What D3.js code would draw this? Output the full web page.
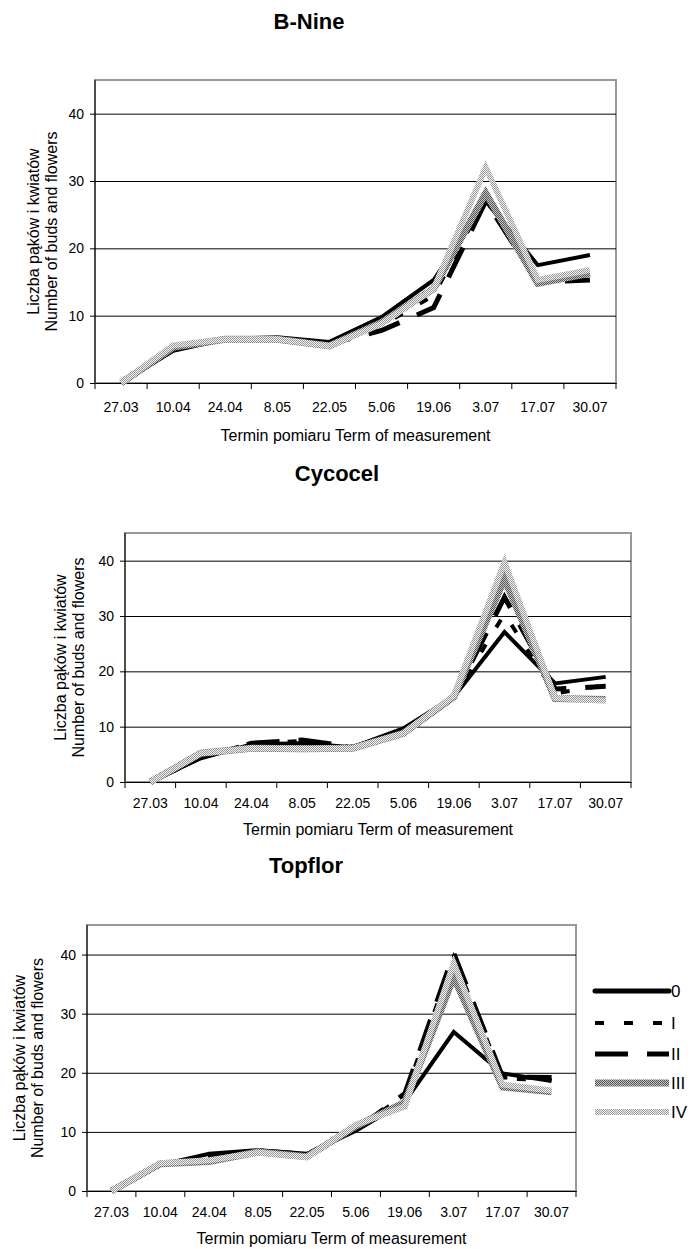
<!DOCTYPE html>
<meta charset="utf-8">
<script src="https://cdn.jsdelivr.net/npm/d3@7"></script>
<style>
body { margin: 0; background: #fff; }
text { font-family: Arial, "Liberation Sans", sans-serif; fill: #000; }
.title { font-size: 22px; font-weight: bold; }
.axis-title { font-size: 16px; }
.tick text { font-size: 14px; }
</style>
<body>
<script>

// measurement dates and treatments
var dates = ["27.03", "10.04", "24.04", "8.05", "22.05", "5.06", "19.06", "3.07", "17.07", "30.07"];
var treatments = ["0", "I", "II", "III", "IV"];
var yTicks = [0, 10, 20, 30, 40];

// B-Nine
var bNine0   = [0, 4.8, 6.5, 6.8, 6.1, 9.8, 15.3, 27.0, 17.5, 19.0];
var bNineI   = [0, 5.0, 6.5, 6.6, 5.8, 8.5, 13.0, 27.5, 15.5, 16.0];
var bNineII  = [0, 5.0, 6.5, 6.6, 5.8, 7.8, 11.2, 27.0, 15.0, 15.3];
var bNineIII = [0, 5.3, 6.5, 6.5, 5.5, 9.0, 14.0, 28.2, 14.8, 16.3];
var bNineIV  = [0, 5.6, 6.5, 6.5, 5.5, 8.8, 14.0, 32.0, 15.3, 16.8];

// Cycocel
var cyc0   = [0, 4.3, 6.8, 7.0, 6.3, 9.7, 15.4, 27.1, 17.8, 19.0];
var cycI   = [0, 4.5, 7.0, 7.4, 6.3, 9.2, 15.4, 30.4, 16.0, 17.5];
var cycII  = [0, 4.5, 7.0, 7.6, 6.3, 9.0, 15.4, 33.4, 16.8, 17.3];
var cycIII = [0, 5.2, 6.1, 6.0, 6.1, 8.8, 15.4, 36.7, 15.1, 14.9];
var cycIV  = [0, 5.2, 6.1, 6.0, 6.1, 8.8, 15.6, 39.7, 15.2, 14.7];

// Topflor
var top0   = [0, 4.4, 6.3, 6.9, 6.3, 10.2, 15.1, 26.9, 19.9, 18.6];
var topI   = [0, 4.5, 5.8, 6.8, 6.2, 10.5, 16.2, 39.5, 19.0, 18.8];
var topII  = [0, 4.5, 5.8, 6.8, 6.2, 10.4, 16.5, 40.2, 19.3, 19.2];
var topIII = [0, 4.6, 5.0, 6.6, 5.8, 11.0, 15.0, 36.2, 17.6, 16.8];
var topIV  = [0, 4.7, 5.2, 6.5, 5.7, 11.2, 14.3, 38.5, 18.0, 17.0];

var width = 692,
    height = 1249;

var svg = d3.select("body").append("svg")
    .attr("width", width)
    .attr("height", height);

// patterned grey strokes (like the old Excel line patterns)
var defs = svg.append("defs");
function checker(id, bg, fg) {
  var p = defs.append("pattern")
      .attr("id", id)
      .attr("patternUnits", "userSpaceOnUse")
      .attr("width", 2).attr("height", 2);
  p.append("rect").attr("width", 2).attr("height", 2).attr("fill", bg);
  p.append("rect").attr("width", 1).attr("height", 1).attr("fill", fg);
  p.append("rect").attr("x", 1).attr("y", 1).attr("width", 1).attr("height", 1).attr("fill", fg);
}
checker("patIII", "#c4c4c4", "#555");
checker("patIV", "#f2f2f2", "#999");

// line style per treatment
var styles = {
  "0":   {stroke: "#000", width: 4, dash: null},
  "I":   {stroke: "#000", width: 4, dash: "9,20"},
  "II":  {stroke: "#000", width: 5, dash: "33,19"},
  "III": {stroke: "url(#patIII)", width: 7, dash: null},
  "IV":  {stroke: "url(#patIV)", width: 6, dash: null}
};

var panels = [
  {title: "B-Nine", series: [bNine0, bNineI, bNineII, bNineIII, bNineIV],
   left: 95, right: 616, top: 80, bottom: 383,
   titleX: 309, titleY: 29, yTitleX: 33, xTitleY: 441, labelPad: 19},
  {title: "Cycocel", series: [cyc0, cycI, cycII, cycIII, cycIV],
   left: 125, right: 631, top: 533, bottom: 782,
   titleX: 337, titleY: 481, yTitleX: 60, xTitleY: 835, labelPad: 16},
  {title: "Topflor", series: [top0, topI, topII, topIII, topIV],
   left: 87, right: 576, top: 925, bottom: 1191,
   titleX: 306, titleY: 873, yTitleX: 19, xTitleY: 1244, labelPad: 16}
];

panels.forEach(function(p) {
  var x = d3.scaleBand().domain(dates).range([p.left, p.right]);
  var y = d3.scaleLinear().domain([0, 45]).range([p.bottom, p.top]);
  var g = svg.append("g");

  // grey frame
  g.append("rect")
      .attr("x", p.left).attr("y", p.top)
      .attr("width", p.right - p.left).attr("height", p.bottom - p.top)
      .attr("fill", "none").attr("stroke", "#999").attr("stroke-width", 2);

  // gridlines
  g.append("g")
      .attr("transform", "translate(" + p.left + ",0)")
      .call(d3.axisLeft(y).tickValues(yTicks.slice(1)).tickSize(-(p.right - p.left)).tickFormat(""))
      .call(function(a) { a.select(".domain").remove(); })
      .selectAll("line").attr("stroke", "#000");

  // y axis
  g.append("g")
      .attr("transform", "translate(" + p.left + ",0)")
      .call(d3.axisLeft(y).tickValues(yTicks).tickSize(5).tickPadding(6).tickSizeOuter(0))
      .call(function(a) {
        a.select(".domain").attr("d", "M0," + p.top + "V" + p.bottom).attr("stroke", "#000");
      })
      .selectAll("text").attr("font-family", null);

  // x axis, labels in the middle of each band
  var xa = g.append("g")
      .attr("transform", "translate(0," + p.bottom + ")")
      .call(d3.axisBottom(x).tickSize(0).tickPadding(p.labelPad).tickSizeOuter(0));
  xa.select(".domain").attr("stroke", "#000");
  xa.selectAll("text").attr("font-family", null);
  // ticks between the categories
  xa.selectAll("line.sep")
      .data(d3.range(dates.length + 1))
      .enter().append("line")
      .attr("class", "sep")
      .attr("x1", function(i) { return p.left + i * x.step(); })
      .attr("x2", function(i) { return p.left + i * x.step(); })
      .attr("y1", 0).attr("y2", 6)
      .attr("stroke", "#000");

  // lines
  var line = d3.line()
      .x(function(d, i) { return x(dates[i]) + x.bandwidth() / 2; })
      .y(function(d) { return y(d); });

  treatments.forEach(function(t, k) {
    var s = styles[t];
    g.append("path")
        .datum(p.series[k])
        .attr("d", line)
        .attr("fill", "none")
        .attr("stroke", s.stroke)
        .attr("stroke-width", s.width)
        .attr("stroke-dasharray", s.dash)
        .attr("stroke-linejoin", "miter");
  });

  // titles
  svg.append("text")
      .attr("class", "title")
      .attr("x", p.titleX).attr("y", p.titleY)
      .attr("text-anchor", "middle")
      .text(p.title);

  svg.append("text")
      .attr("class", "axis-title")
      .attr("x", (p.left + p.right) / 2).attr("y", p.xTitleY)
      .attr("text-anchor", "middle")
      .text("Termin pomiaru Term of measurement");

  var cy = (p.top + p.bottom) / 2;
  var yt = svg.append("text")
      .attr("class", "axis-title")
      .attr("text-anchor", "middle")
      .attr("transform", "translate(" + p.yTitleX + "," + cy + ") rotate(-90)");
  yt.append("tspan").attr("x", 0).attr("dy", "0.35em").text("Liczba pąków i kwiatów");
  yt.append("tspan").attr("x", 0).attr("dy", 18).text("Number of buds and flowers");
});

// legend (next to the last chart)
var legendY = [991, 1023, 1054, 1083, 1112];
var legend = svg.append("g");
treatments.forEach(function(t, k) {
  var s = styles[t];
  legend.append("line")
      .attr("x1", 595).attr("x2", 669)
      .attr("y1", legendY[k]).attr("y2", legendY[k])
      .attr("stroke", s.stroke)
      .attr("stroke-width", s.width + (t == "0" ? 1 : 0))
      .attr("stroke-dasharray", s.dash)
      .attr("stroke-linecap", t == "0" ? "round" : "butt");
  legend.append("text")
      .attr("x", 671).attr("y", legendY[k])
      .attr("dy", "0.36em")
      .style("font-size", "17px")
      .text(t);
});

</script>
</body>
</html>
